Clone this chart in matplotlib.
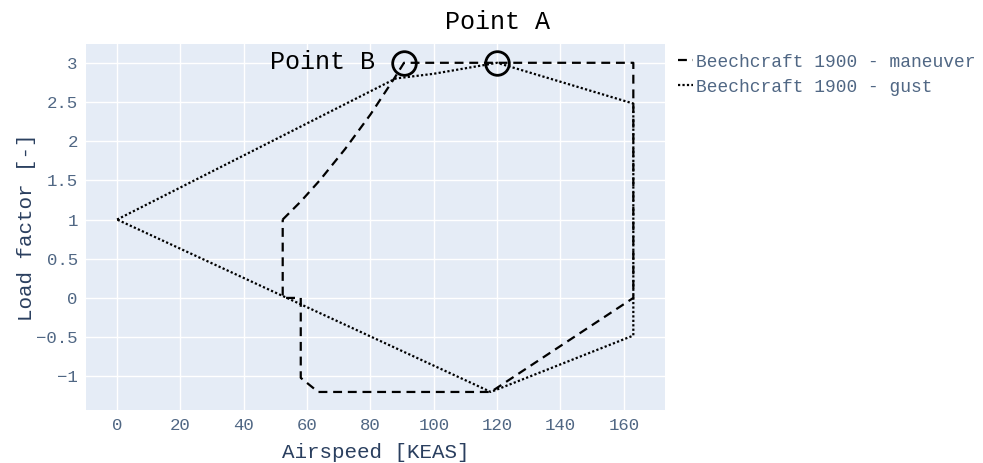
import matplotlib.pyplot as plt

# V-n diagram, Beechcraft 1900
v_man = [52.3, 58, 64, 72, 80, 87.5, 90.6, 163, 163, 118, 63.5, 58, 58, 52.3, 52.3]
n_man = [1.0, 1.23, 1.5, 1.9, 2.34, 2.8, 3.0, 3.0, 0.0, -1.2, -1.2, -1.02, 0.0, 0.0, 1.0]

v_gust = [0, 88, 100, 110, 120, 163, 163, 118, 0]
n_gust = [1.0, 2.8, 2.86, 2.93, 3.0, 2.48, -0.48, -1.2, 1.0]

v_pts = [120, 90.6]
n_pts = [3.0, 3.0]
pt_labels = ["Point A", "Point B"]

txt = "#2a3f5f"
tick_col = "#506784"
mono = ["Liberation Mono", "DejaVu Sans Mono"]
plt.rcParams["font.family"] = mono

fig = plt.figure(figsize=(9.83, 4.63), dpi=100)
ax = fig.add_axes([0.0875, 0.1145, 0.589, 0.7905])
ax.set_facecolor("#E5ECF6")

ax.plot(v_man, n_man, color="black", lw=1.6, ls=(0, (4, 2.6)),
        label="Beechcraft 1900 - maneuver")
ax.plot(v_gust, n_gust, color="black", lw=1.6, ls=(0, (1, 1)),
        label="Beechcraft 1900 - gust")
ax.plot(v_pts, n_pts, ls="none", marker="o", ms=17, mfc="none",
        mec="black", mew=2)

ax.text(v_pts[0], 3.52, pt_labels[0], ha="center", va="center",
        fontsize=18, color="black", clip_on=False)
ax.text(81.5, 3.01, pt_labels[1], ha="right", va="center",
        fontsize=18, color="black")

ax.set_xlim(-9.8, 173)
ax.set_ylim(-1.43, 3.24)
ax.set_xticks(range(0, 161, 20))
ax.set_yticks([-1, -0.5, 0, 0.5, 1, 1.5, 2, 2.5, 3])
ax.set_yticklabels(["\u22121", "\u22120.5", "0", "0.5", "1", "1.5", "2", "2.5", "3"])
ax.grid(color="white", lw=1)
ax.set_axisbelow(True)
for s in ax.spines.values():
    s.set_visible(False)
ax.tick_params(length=0, labelsize=12.5, labelcolor=tick_col, pad=6)
ax.set_xlabel("Airspeed [KEAS]", fontsize=15, color=txt, labelpad=7)
ax.set_ylabel("Load factor [-]", fontsize=15, color=txt, labelpad=0)

ax.legend(loc="upper left", bbox_to_anchor=(1.0, 1.008), frameon=False,
          fontsize=12.9, labelcolor=tick_col, handlelength=0.85,
          handletextpad=0.2, borderaxespad=0.3, labelspacing=0.45)

fig.savefig("out.png", dpi=100)
